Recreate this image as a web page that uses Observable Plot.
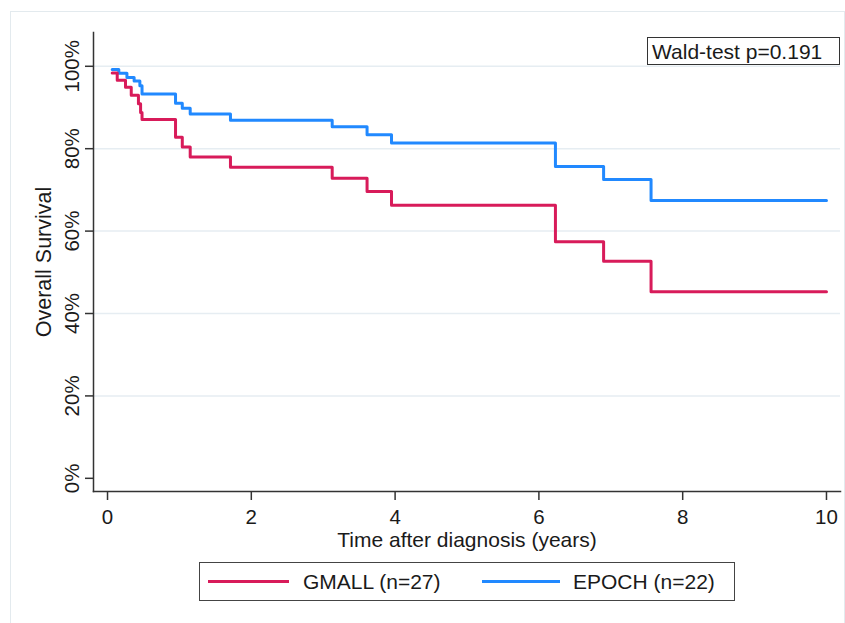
<!DOCTYPE html>
<html>
<head>
<meta charset="utf-8">
<script src="https://cdn.jsdelivr.net/npm/d3@7"></script>
<script src="https://cdn.jsdelivr.net/npm/@observablehq/plot@0.6"></script>
<style>
  body { margin: 0; background: #fff; font-family: "Liberation Sans", Arial, sans-serif; color: #1a1a1a; }
  #wrap { position: relative; width: 845px; height: 623px; overflow: hidden; background: #fff; }
  #outer { position: absolute; left: 10px; top: 11px; width: 833px; height: 620px; border: 1px solid #e3eaee; }
  #chart { position: absolute; left: 0; top: 0; }
  #wald { position: absolute; left: 647px; top: 37px; width: 187px; height: 26px; border: 1px solid #333;
          font-size: 21px; line-height: 27px; padding-left: 4px; white-space: nowrap; background: #fff; }
  #legend { position: absolute; left: 199px; top: 562px; width: 534px; height: 37px; border: 1px solid #444; background: #fff; }
  .sw { position: absolute; top: 17px; height: 3px; }
  .lt { position: absolute; top: 0; font-size: 21px; line-height: 37px; white-space: nowrap; }
</style>
</head>
<body>
<div id="wrap">
  <div id="outer"></div>
  <div id="chart"></div>
  <div id="wald"></div>
  <div id="legend"></div>
</div>
<script>
// ---- data ----
const groups = ["GMALL (n=27)", "EPOCH (n=22)"];
const colors = ["#d81b5a", "#2189ff"];

const gmallTime = [0.065, 0.135, 0.25, 0.33, 0.43, 0.46, 0.48, 0.946, 1.04, 1.15, 1.71, 3.125, 3.61, 3.95, 6.23, 6.90, 7.56, 10.0];
const gmallSurv = [98.4, 96.6, 94.9, 93.0, 90.9, 88.8, 87.1, 82.8, 80.4, 78.0, 75.5, 72.8, 69.6, 66.3, 57.4, 52.7, 45.3, 45.3];

const epochTime = [0.065, 0.157, 0.27, 0.37, 0.45, 0.48, 0.946, 1.04, 1.15, 1.71, 3.125, 3.61, 3.95, 6.23, 6.90, 7.56, 10.0];
const epochSurv = [99.2, 98.3, 97.3, 96.4, 95.3, 93.3, 91.0, 89.8, 88.4, 86.9, 85.3, 83.4, 81.4, 75.7, 72.5, 67.4, 67.4];

const xTicks = [0, 2, 4, 6, 8, 10];
const yTicks = [0, 20, 40, 60, 80, 100];
const gridTicks = [20, 40, 60, 80, 100];
const xTitle = "Time after diagnosis (years)";
const yTitle = "Overall Survival";
const waldText = "Wald-test p=0.191";

// ---- build table ----
const rows = [
  ...gmallTime.map((t, i) => ({t, s: gmallSurv[i], g: groups[0]})),
  ...epochTime.map((t, i) => ({t, s: epochSurv[i], g: groups[1]}))
];

const axisColor = "#333";
const chart = Plot.plot({
  width: 845,
  height: 560,
  marginLeft: 93,
  marginRight: 5,
  marginTop: 32,
  marginBottom: 69,
  style: {fontFamily: "'Liberation Sans', Arial, sans-serif", fontSize: "20px", color: "#1a1a1a", background: "transparent"},
  x: {domain: [-0.195, 10.195]},
  y: {domain: [-3.2, 108.2]},
  color: {domain: groups, range: colors},
  marks: [
    Plot.gridY(gridTicks, {stroke: "#e6edf2", strokeOpacity: 1, strokeWidth: 1.5}),
    Plot.line(rows.filter(d => d.g === groups[1]), {x: "t", y: "s", stroke: "g", curve: "step-after", strokeWidth: 3}),
    Plot.line(rows.filter(d => d.g === groups[0]), {x: "t", y: "s", stroke: "g", curve: "step-after", strokeWidth: 3}),
    Plot.frame({anchor: "left", stroke: axisColor, strokeWidth: 1.5}),
    Plot.frame({anchor: "bottom", stroke: axisColor, strokeWidth: 1.5}),
    Plot.axisX(xTicks, {tickSize: 9, tickPadding: 9, fontSize: 20.5, stroke: axisColor, strokeWidth: 1.5, label: null}),
    Plot.axisY(yTicks, {tickSize: 8, tickPadding: 7, tickRotate: -90, fontSize: 20.5, stroke: axisColor, strokeWidth: 1.5,
                        tickFormat: d => d + "%", label: null}),
    Plot.text([xTitle], {text: d => d, frameAnchor: "bottom", dy: 55, lineAnchor: "bottom", fontSize: 21}),
    Plot.text([yTitle], {text: d => d, frameAnchor: "left", dx: -43, rotate: -90, textAnchor: "middle", lineAnchor: "bottom", fontSize: 21.5})
  ]
});
document.getElementById("chart").appendChild(chart);

// ---- Wald-test box ----
document.getElementById("wald").textContent = waldText;

// ---- legend ----
const legend = document.getElementById("legend");
const swLeft = [8, 282];
const swWidth = [81, 78];
const txtLeft = [103, 373];
groups.forEach((g, i) => {
  const sw = document.createElement("div");
  sw.className = "sw";
  sw.style.left = swLeft[i] + "px";
  sw.style.width = swWidth[i] + "px";
  sw.style.background = colors[i];
  legend.appendChild(sw);
  const tx = document.createElement("div");
  tx.className = "lt";
  tx.style.left = txtLeft[i] + "px";
  tx.textContent = g;
  legend.appendChild(tx);
});
</script>
</body>
</html>
